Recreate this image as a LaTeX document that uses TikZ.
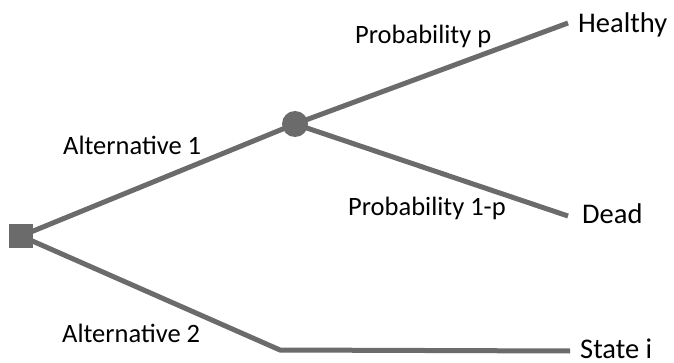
\documentclass[tikz,border=0pt]{standalone}
\usepackage{fontspec}
\setmainfont{Carlito}
\begin{document}
\begin{tikzpicture}[x=1pt,y=-1pt,
  branch/.style={draw=black!58, line width=5pt},
  lbl/.style={font=\fontsize{26.5}{30}\selectfont, inner sep=0pt, anchor=base west},
  endlbl/.style={font=\fontsize{28.5}{32}\selectfont, inner sep=0pt, anchor=base west}]
\useasboundingbox (0,0) rectangle (674,363);
\node[fill=black!58, minimum size=24pt, inner sep=0pt] (d) at (21,236) {};
\node[circle, fill=black!58, minimum size=26pt, inner sep=0pt] (c) at (295,124) {};
\coordinate (h) at (568,23);
\coordinate (dd) at (568,216);
\coordinate (k) at (280,350);
\coordinate (s) at (570,351);
\draw[branch] (d.center) -- (c.center);
\draw[branch] (c.center) -- (h);
\draw[branch] (c.center) -- (dd);
\draw[branch] (d.center) -- (k) -- (s);
\node[fill=black!58, minimum size=24pt, inner sep=0pt] at (d) {};
\node[endlbl] (th) at (578,33) {Healthy};
\node[endlbl] (tdd) at (582,224) {Dead};
\node[endlbl] (ts) at (580,358) {State i};
\node[lbl] (pp) at (355,44) {Probability p};
\node[lbl] (pq) at (348,216) {Probability 1-p};
\node[lbl] (a1) at (63,155) {Alternative 1};
\node[lbl] (a2) at (62,342) {Alternative 2};
\end{tikzpicture}
\end{document}
